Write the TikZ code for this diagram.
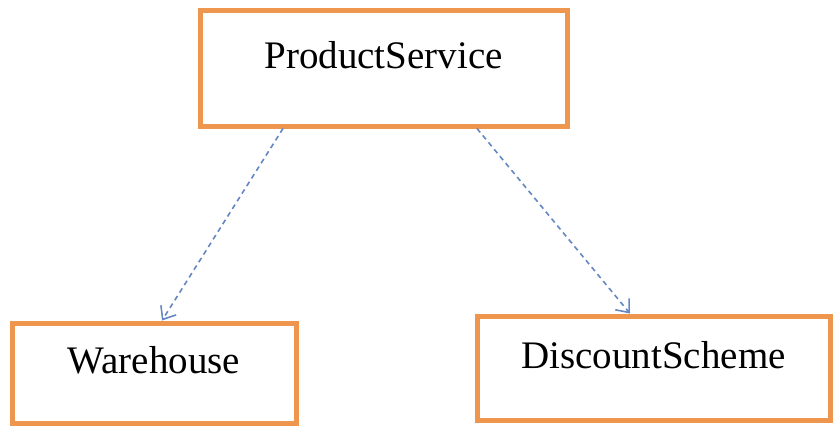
\documentclass[tikz,border=0pt]{standalone}
\usepackage{fontspec}
\setmainfont{Liberation Serif}
\usetikzlibrary{arrows.meta}
\definecolor{boxorange}{RGB}{238,149,78}
\definecolor{depblue}{RGB}{100,135,195}
\begin{document}
\begin{tikzpicture}[x=1pt,y=-1pt,
  umlbox/.style={draw=boxorange,line width=5pt,rectangle,inner sep=0pt,
    font=\fontsize{39}{41}\selectfont,text height=27pt,text depth=27pt},
  dep/.style={draw=depblue,line width=1.6pt,dash pattern=on 5pt off 4pt,
    -{Straight Barb[length=11pt,width=18pt,line width=1.6pt]}}]
\useasboundingbox (0,0) rectangle (833,426);
\node[umlbox,minimum width=367pt,minimum height=116pt] (ps) at (383.5,68) {ProductService};
\node[umlbox,minimum width=284pt,minimum height=100pt] (wh) at (154,373) {Warehouse};
\node[umlbox,minimum width=353pt,minimum height=104pt] (ds) at (653.5,368) {DiscountScheme};
\draw[dep] ([xshift=-100.5pt]ps.south) -- ([xshift=8pt]wh.north);
\draw[dep] ([xshift=93.5pt]ps.south) -- ([xshift=-23.5pt]ds.north);
\end{tikzpicture}
\end{document}
